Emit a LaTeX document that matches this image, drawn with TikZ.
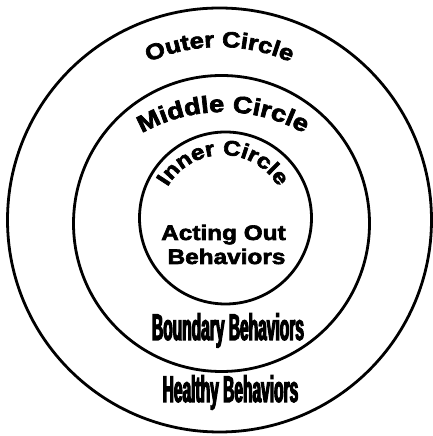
\documentclass[tikz,border=0pt]{standalone}
\usepackage{fontspec}
\usetikzlibrary{decorations.text}
\newfontfamily\roundfont{Liberation Sans Bold}[FakeStretch=1.16,FakeBold=3]
\newfontfamily\tallfont{Liberation Sans Bold}[FakeStretch=0.42,FakeBold=3]

\begin{document}
\begin{tikzpicture}[x=1pt, y=1pt,
	ring/.style={draw, line width=2.8pt},
	arctext/.style={decorate, decoration={text along path, text align=center, text={#1}}},
	tall/.style={font=\tallfont\fontsize{37}{37}\selectfont, inner sep=0pt, anchor=base}]
	\useasboundingbox (0,0) rectangle (432,436);
	\coordinate (outer) at (219.5,216);
	\coordinate (middle) at (221.5,212.5);
	\coordinate (inner) at (225.5,218);
	\draw[ring] (outer) circle[radius=212];
	\draw[ring] (middle) circle[radius=148];
	\draw[ring] (inner) circle[radius=86];
	\path[arctext={|\roundfont\fontsize{22}{22}\selectfont|Outer Circle}]
		(outer) ++(130:173) arc[start angle=130, end angle=50, radius=173];
	\path[arctext={|\roundfont\fontsize{23.5}{23.5}\selectfont|Middle Circle}]
		(223,159) ++(125:165) arc[start angle=125, end angle=55, radius=165];
	\path[arctext={|\roundfont\fontsize{21}{21}\selectfont|Inner Circle}]
		(223,217) ++(170:64) arc[start angle=170, end angle=10, radius=64];
	\node[font=\roundfont\fontsize{21}{24}\selectfont, inner sep=0pt, anchor=base] (acting) at (223.5,196) {Acting Out};
	\node[font=\roundfont\fontsize{21}{24}\selectfont, inner sep=0pt, anchor=base] (behav) at (226.5,172) {Behaviors};
	\node[tall] (boundary) at (228,96) {Boundary Behaviors};
	\node[tall] (healthy) at (230.5,34) {Healthy Behaviors};
\end{tikzpicture}
\end{document}
